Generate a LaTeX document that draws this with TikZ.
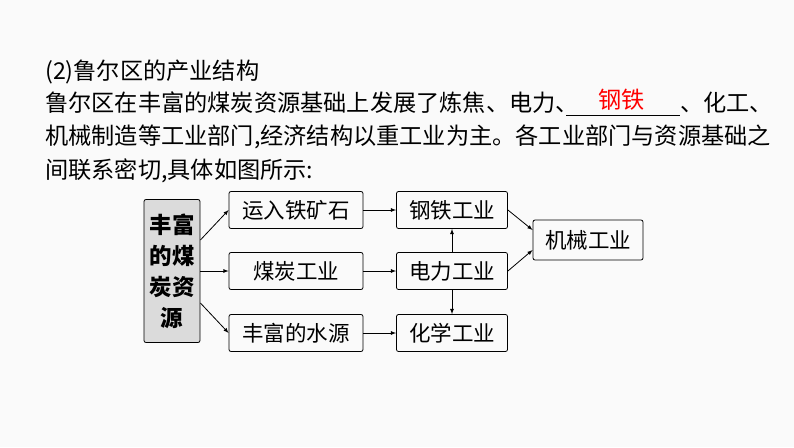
\documentclass[tikz,border=0pt]{standalone}
\usepackage{fontspec}
\setmainfont{Noto Sans CJK SC}
\usetikzlibrary{positioning}
\tikzset{
  % text lines
  zin/.style={anchor=west, inner sep=0pt, font=\fontsize{23.2}{26}\selectfont},
  % boxes of the diagram
  kader/.style={draw, thick, rounded corners=2pt, minimum height=37pt,
    inner sep=2pt, font=\fontsize{21.5}{24}\selectfont},
  bron/.style={kader, fill=black!14, minimum width=56pt, minimum height=143pt,
    align=center, font=\bfseries\fontsize{22.5}{31}\selectfont},
  pijl/.style={-latex, thick}
}
\begin{document}
\begin{tikzpicture}[x=1pt, y=-1pt]
  \useasboundingbox[fill=black!2] (0,0) rectangle (794,447);

  % --- tekst ---
  \node[zin] (titel) at (45,72) {(2)鲁尔区的产业结构};
  \node[zin] (r1) at (45,103) {鲁尔区在丰富的煤炭资源基础上发展了炼焦、电力、};
  \node[zin, text=red] (antw) at (598,100) {钢铁};
  \node[zin] (r1b) at (680,103) {、化工、};
  \coordinate (ls) at (566,115);
  \coordinate (le) at (680,115);
  \draw[thick] (ls) -- (le);
  \node[zin] (r2) at (45,137) {机械制造等工业部门,经济结构以重工业为主。各工业部门与资源基础之};
  \node[zin] (r3) at (45,171) {间联系密切,具体如图所示:};

  % --- schema ---
  \node[bron] (kool) at (172,271) {丰富\\的煤\\炭资\\源};
  \node[kader, minimum width=134pt] (erts) at (296,210) {运入铁矿石};
  \node[kader, minimum width=134pt] (mijn) at (296,271) {煤炭工业};
  \node[kader, minimum width=134pt] (water) at (296,333) {丰富的水源};
  \node[kader, minimum width=111pt] (staal) at (452,210) {钢铁工业};
  \node[kader, minimum width=111pt] (stroom) at (452,271) {电力工业};
  \node[kader, minimum width=111pt] (chemie) at (452,333) {化学工业};
  \node[kader, minimum width=110pt, minimum height=40pt] (machine) at (588,240) {机械工业};

  \draw[pijl] (kool.east |- 0,240) -- (erts.west);
  \draw[pijl] (kool.east |- mijn) -- (mijn.west);
  \draw[pijl] (kool.east |- 0,303) -- (water.west);
  \draw[pijl] (erts) -- (staal);
  \draw[pijl] (mijn) -- (stroom);
  \draw[pijl] (water) -- (chemie);
  \draw[pijl] (stroom) -- (staal);
  \draw[pijl] (stroom) -- (chemie);
  \draw[pijl] (staal.east) -- (machine.west |- 0,230);
  \draw[pijl] (stroom.east) -- (machine.west |- 0,250);
\end{tikzpicture}
\end{document}
